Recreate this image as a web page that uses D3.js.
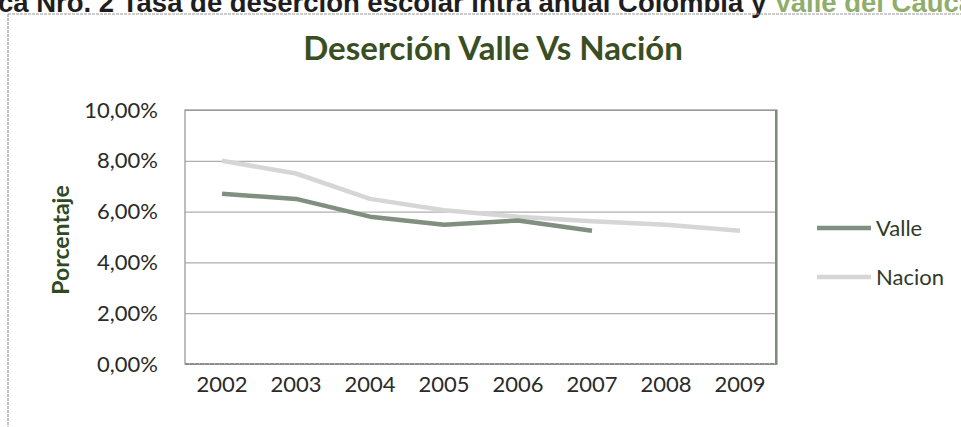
<!DOCTYPE html>
<html>
<head>
<meta charset="utf-8">
<script src="https://cdn.jsdelivr.net/npm/d3@7"></script>
<style>
  html, body { margin: 0; padding: 0; background: #fff; }
  svg { display: block; }
</style>
</head>
<body>
<svg id="chart" width="961" height="427"></svg>
<script>
const years = ["2002", "2003", "2004", "2005", "2006", "2007", "2008", "2009"];
const valle = [6.7, 6.5, 5.8, 5.48, 5.65, 5.25];
const nacion = [8.0, 7.5, 6.5, 6.05, 5.8, 5.62, 5.48, 5.25];
const yTicks = [0, 2, 4, 6, 8, 10];
const seriesNames = ["Valle", "Nacion"];
const seriesColors = ["#808f7f", "#d6d6d6"];

const svg = d3.select("#chart");
const W = 961, H = 427;
const m = { left: 185, right: 777, top: 110, bottom: 364 };

// caption (cut at top of picture, as in the scan)
const cap = svg.append("text")
  .attr("x", -2).attr("y", 12)
  .attr("font-family", "Liberation Sans, Arial, sans-serif")
  .attr("font-weight", "bold")
  .attr("font-size", 27.5)
  .attr("fill", "#1e1e1e");
cap.append("tspan").text("ca Nro. 2 Tasa de deserción escolar intra anual Colombia y ");
cap.append("tspan").attr("fill", "#8fae6c").text("Valle del Cauca");

// outer chart frame
svg.append("line").attr("x1", 8).attr("x2", W).attr("y1", 14).attr("y2", 14)
  .attr("stroke", "#9a9a9a").attr("stroke-width", 1.2).attr("stroke-dasharray", "3,1");
svg.append("line").attr("x1", 8).attr("x2", 8).attr("y1", 14).attr("y2", H)
  .attr("stroke", "#9a9a9a").attr("stroke-width", 1.2).attr("stroke-dasharray", "3,1");

const x = d3.scaleBand().domain(years).range([m.left, m.right]);
const y = d3.scaleLinear().domain([0, 10]).range([m.bottom, m.top]);

// gridlines
svg.append("g")
  .attr("transform", `translate(${m.left},0)`)
  .call(d3.axisLeft(y).tickValues(yTicks).tickSize(-(m.right - m.left)).tickFormat(""))
  .call(g => g.select(".domain").remove())
  .call(g => g.selectAll("line").attr("stroke", "#9a9a9a").attr("stroke-width", 1));

// plot border
svg.append("rect")
  .attr("x", m.left).attr("y", m.top)
  .attr("width", m.right - m.left).attr("height", m.bottom - m.top)
  .attr("fill", "none").attr("stroke", "#9a9a9a").attr("stroke-width", 1.3);
svg.append("line").attr("x1", m.left).attr("x2", m.right).attr("y1", m.bottom).attr("y2", m.bottom)
  .attr("stroke", "#8a8f8a").attr("stroke-width", 2).attr("stroke-dasharray", "4,1");
svg.append("line").attr("x1", m.right - 1).attr("x2", m.right - 1).attr("y1", m.top).attr("y2", m.bottom)
  .attr("stroke", "#7f8a7f").attr("stroke-width", 2);

// y axis labels
const fmt = v => d3.format(".2f")(v).replace(".", ",") + "%";
svg.append("g")
  .attr("transform", `translate(${m.left},0)`)
  .call(d3.axisLeft(y).tickValues(yTicks).tickSize(0).tickPadding(27).tickFormat(fmt))
  .call(g => g.select(".domain").remove())
  .call(g => g.selectAll("text")
    .attr("font-family", "Lato, sans-serif").attr("font-size", 22).attr("fill", "#2a2a2a"));

// x axis labels
svg.append("g")
  .attr("transform", `translate(0,${m.bottom})`)
  .call(d3.axisBottom(x).tickSize(0).tickPadding(12))
  .call(g => g.select(".domain").remove())
  .call(g => g.selectAll("text")
    .attr("font-family", "Lato, sans-serif").attr("font-size", 22).attr("fill", "#2a2a2a"));

// axis title
svg.append("text")
  .attr("transform", "translate(69,240) rotate(-90)")
  .attr("text-anchor", "middle")
  .attr("font-family", "Lato, sans-serif").attr("font-weight", "bold")
  .attr("font-size", 23).attr("fill", "#2f4a1e")
  .text("Porcentaje");

// title
svg.append("text")
  .attr("x", 493).attr("y", 60)
  .attr("text-anchor", "middle")
  .attr("font-family", "Lato, sans-serif").attr("font-weight", "bold")
  .attr("font-size", 33).attr("fill", "#3a4e24")
  .text("Deserción Valle Vs Nación");

// lines
const line = d3.line()
  .x((d, i) => x(years[i]) + x.bandwidth() / 2)
  .y(d => y(d));

const data = [valle, nacion];
svg.selectAll("path.series")
  .data(data.slice().reverse())
  .join("path")
  .attr("class", "series")
  .attr("d", line)
  .attr("fill", "none")
  .attr("stroke", (d, i) => seriesColors[1 - i])
  .attr("stroke-width", 4.5)
  .attr("stroke-linejoin", "round");

// legend
const leg = svg.append("g");
seriesNames.forEach((name, i) => {
  const ly = 228 + i * 49;
  leg.append("line").attr("x1", 817).attr("x2", 871).attr("y1", ly).attr("y2", ly)
    .attr("stroke", seriesColors[i]).attr("stroke-width", 4.5);
  leg.append("text").attr("x", 876).attr("y", ly).attr("dy", "0.35em")
    .attr("font-family", "Lato, sans-serif").attr("font-size", 22).attr("fill", "#2f3a2a")
    .text(name);
});
</script>
</body>
</html>
